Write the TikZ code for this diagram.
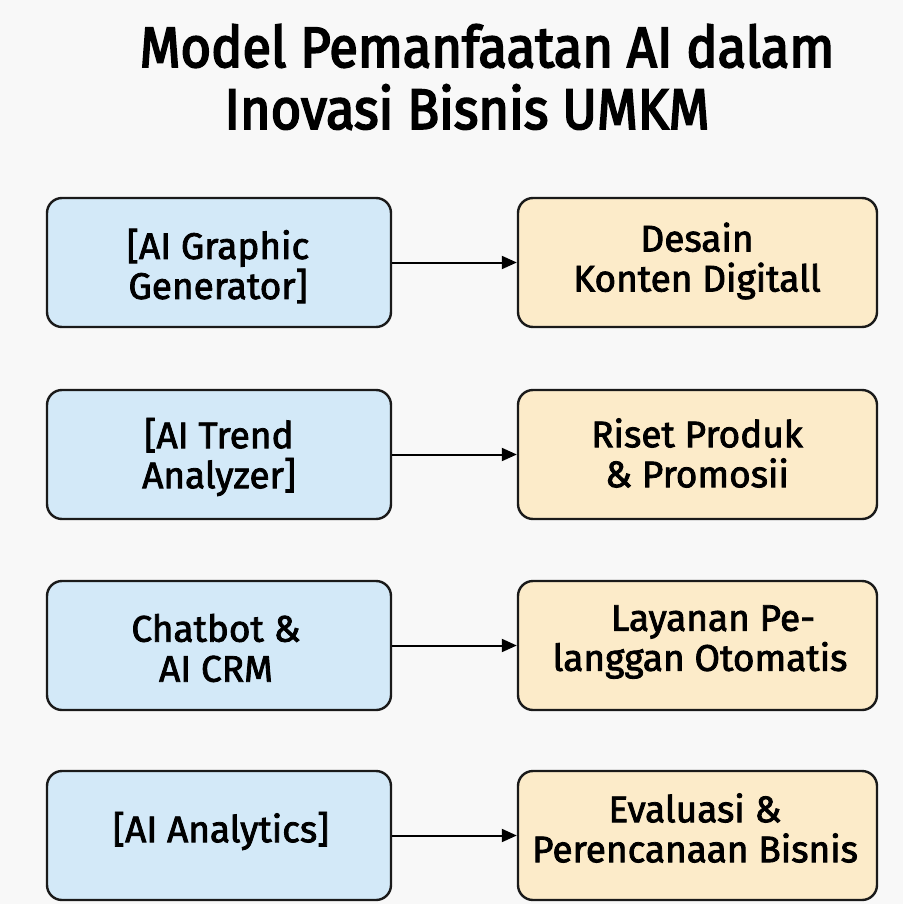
\documentclass[tikz,border=0pt]{standalone}
\usepackage{fontspec}
\setmainfont{Fira Sans}
\newfontfamily\bodyfont{Fira Sans}[FakeBold=2.2]
\newfontfamily\titlefont{Fira Sans}[FakeBold=3.2,FakeStretch=0.92]
\usetikzlibrary{arrows.meta}
\definecolor{bgc}{HTML}{F8F8F8}
\definecolor{bluef}{HTML}{D3E9F8}
\definecolor{tanf}{HTML}{FCEBC9}
\definecolor{edge}{HTML}{1A1A1A}
\tikzset{
  boxbase/.style={draw=edge, line width=2.4pt, rounded corners=15pt, minimum width=344pt, minimum height=129pt},
  leftbox/.style={boxbase, fill=bluef},
  rightbox/.style={boxbase, fill=tanf, minimum width=359pt},
  boxtext/.style={font=\bodyfont\fontsize{37}{40}\selectfont, text=black, align=center, inner sep=0pt},
  titletext/.style={font=\titlefont\fontsize{57}{60}\selectfont, text=black, inner sep=0pt},
  conn/.style={draw=black, line width=2pt, -{Triangle[length=15pt,width=13pt]}}
}
\begin{document}
\begin{tikzpicture}[x=1pt,y=-1pt]
\fill[bgc] (0,0) rectangle (903,904);
\useasboundingbox (0,0) rectangle (903,904);
\node[titletext] (t1) at (487,46) {Model Pemanfaatan AI dalam};
\node[titletext] (t2) at (467,107) {Inovasi Bisnis UMKM};
% left boxes
\node[leftbox] (l1) at (219,262.5) {};
\node[leftbox] (l2) at (219,454.5) {};
\node[leftbox] (l3) at (219,645.5) {};
\node[leftbox] (l4) at (219,835.5) {};
% right boxes
\node[rightbox] (r1) at (697.5,262.5) {};
\node[rightbox] (r2) at (697.5,454.5) {};
\node[rightbox] (r3) at (697.5,645.5) {};
\node[rightbox] (r4) at (697.5,835.5) {};
% texts
\node[boxtext] (l1t) at (218,266) {[AI Graphic\\Generator]};
\node[boxtext] (l2t) at (219,457) {[AI Trend\\Analyzer]};
\node[boxtext] (l3t) at (216,648) {Chatbot \&\\AI CRM};
\node[boxtext] (l4t) at (221,831) {[AI Analytics]};
\node[boxtext] (r1t) at (697,261) {Desain\\Konten Digitall};
\node[boxtext] (r2t) at (697,453) {Riset Produk\\\& Promosii};
\node[boxtext] (r3t) at (700,642) {\hspace*{26pt}Layanan Pe-\\langgan Otomatis};
\node[boxtext] (r4t) at (695,828) {Evaluasi \&\\Perencanaan Bisnis};
% connectors
\draw[conn] (l1.east) -- (r1.west);
\draw[conn] (l2.east) -- (r2.west);
\draw[conn] (l3.east) -- (r3.west);
\draw[conn] (l4.east) -- (r4.west);
\end{tikzpicture}
\end{document}
